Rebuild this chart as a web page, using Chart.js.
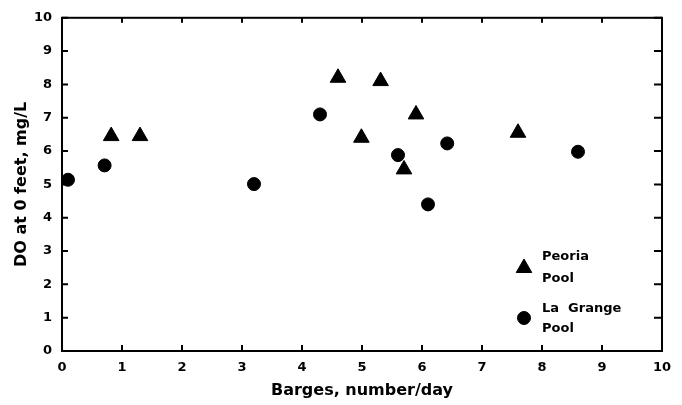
<!DOCTYPE html>
<html lang="en">
<head>
    <title>DO vs Barges</title>
    <script src="https://cdn.jsdelivr.net/npm/chart.js"></script>
    <style>
        html, body { margin: 0; padding: 0; background: #fff; }
        #chartContainer { width: 682px; height: 405px; }
    </style>
</head>
<body>

<div id="chartContainer">
    <canvas id="doChart"></canvas>
</div>

<script>
// Barge traffic vs dissolved oxygen at the surface
const peoriaX = [0.82, 1.3, 4.6, 4.99, 5.31, 5.7, 5.9, 7.6];
const peoriaY = [6.45, 6.45, 8.2, 6.4, 8.1, 5.45, 7.1, 6.55];
const laGrangeX = [0.1, 0.71, 3.2, 4.3, 5.6, 6.1, 6.42, 8.6];
const laGrangeY = [5.14, 5.57, 5.01, 7.1, 5.88, 4.4, 6.23, 5.98];
const xTicks = [0, 1, 2, 3, 4, 5, 6, 7, 8, 9, 10];
const yTicks = [0, 1, 2, 3, 4, 5, 6, 7, 8, 9, 10];
const legendLines = [['Peoria', 'Pool'], ['La  Grange', 'Pool']];

const FONT = "'DejaVu Sans', sans-serif";

function toPoints(xs, ys) {
    return xs.map((x, i) => ({ x: x, y: ys[i] }));
}

// frame with inward ticks on all four sides
const framePlugin = {
    id: 'frame',
    afterDatasetsDraw(chart) {
        const { ctx, chartArea: a, scales } = chart;
        ctx.save();
        ctx.strokeStyle = '#000';
        ctx.lineWidth = 2;
        ctx.strokeRect(a.left, a.top, a.right - a.left, a.bottom - a.top);
        ctx.beginPath();
        xTicks.forEach(v => {
            const px = scales.x.getPixelForValue(v);
            ctx.moveTo(px, a.bottom); ctx.lineTo(px, a.bottom - 6);
            ctx.moveTo(px, a.top); ctx.lineTo(px, a.top + 5);
        });
        yTicks.forEach(v => {
            const py = scales.y.getPixelForValue(v);
            ctx.moveTo(a.left, py); ctx.lineTo(a.left + 6, py);
            ctx.moveTo(a.right, py); ctx.lineTo(a.right - 8, py);
        });
        ctx.stroke();
        ctx.restore();
    }
};

// legend with two-line labels inside the plot
const legendPlugin = {
    id: 'poolLegend',
    afterDraw(chart) {
        const { ctx, chartArea: a } = chart;
        const mx = a.right - 138;
        const rows = [a.bottom - 83, a.bottom - 33];
        const textRows = [[a.bottom - 91, a.bottom - 69], [a.bottom - 39, a.bottom - 19]];
        ctx.save();
        chart.data.datasets.forEach((ds, i) => {
            ctx.fillStyle = '#000';
            ctx.strokeStyle = '#000';
            ctx.lineWidth = 1;
            Chart.helpers.drawPoint(ctx, {
                pointStyle: ds.pointStyle,
                radius: ds.pointRadius,
                borderWidth: 1
            }, mx, rows[i]);
            ctx.font = 'bold 13px ' + FONT;
            ctx.textBaseline = 'alphabetic';
            ctx.textAlign = 'left';
            ctx.fillText(legendLines[i][0], mx + 18, textRows[i][0]);
            ctx.fillText(legendLines[i][1], mx + 18, textRows[i][1]);
        });
        ctx.restore();
    }
};

const ctx = document.getElementById('doChart').getContext('2d');
const doChart = new Chart(ctx, {
    type: 'scatter',
    data: {
        datasets: [{
            label: 'Peoria Pool',
            data: toPoints(peoriaX, peoriaY),
            pointStyle: 'triangle',
            pointRadius: 9,
            backgroundColor: '#000',
            borderColor: '#000',
            borderWidth: 1,
            clip: 0
        }, {
            label: 'La Grange Pool',
            data: toPoints(laGrangeX, laGrangeY),
            pointStyle: 'circle',
            pointRadius: 6.5,
            backgroundColor: '#000',
            borderColor: '#000',
            borderWidth: 1,
            clip: 0
        }]
    },
    options: {
        responsive: true,
        maintainAspectRatio: false,
        animation: false,
        layout: { padding: { top: 15, right: 20, left: 0, bottom: 0 } },
        plugins: {
            legend: { display: false },
            tooltip: { enabled: false }
        },
        scales: {
            x: {
                type: 'linear',
                min: 0,
                max: 10,
                afterBuildTicks: s => { s.ticks = xTicks.map(v => ({ value: v })); },
                afterFit: s => { s.height = 54; },
                grid: { display: false, drawTicks: false },
                border: { display: false },
                ticks: {
                    color: '#000',
                    padding: 9,
                    maxRotation: 0,
                    font: { family: FONT, size: 13, weight: 'bold' }
                },
                title: {
                    display: true,
                    text: 'Barges, number/day',
                    color: '#000',
                    padding: { top: 0, bottom: 5 },
                    font: { family: FONT, size: 16, weight: 'bold' }
                }
            },
            y: {
                type: 'linear',
                min: 0,
                max: 10,
                afterBuildTicks: s => { s.ticks = yTicks.map(v => ({ value: v })); },
                afterFit: s => { s.width = 62; },
                grid: { display: false, drawTicks: false },
                border: { display: false },
                ticks: {
                    color: '#000',
                    padding: 10,
                    font: { family: FONT, size: 13, weight: 'bold' }
                },
                title: {
                    display: true,
                    text: 'DO at 0 feet, mg/L',
                    color: '#000',
                    padding: { top: 12, bottom: 0 },
                    font: { family: FONT, size: 16, weight: 'bold' }
                }
            }
        }
    },
    plugins: [framePlugin, legendPlugin]
});
</script>

</body>
</html>
